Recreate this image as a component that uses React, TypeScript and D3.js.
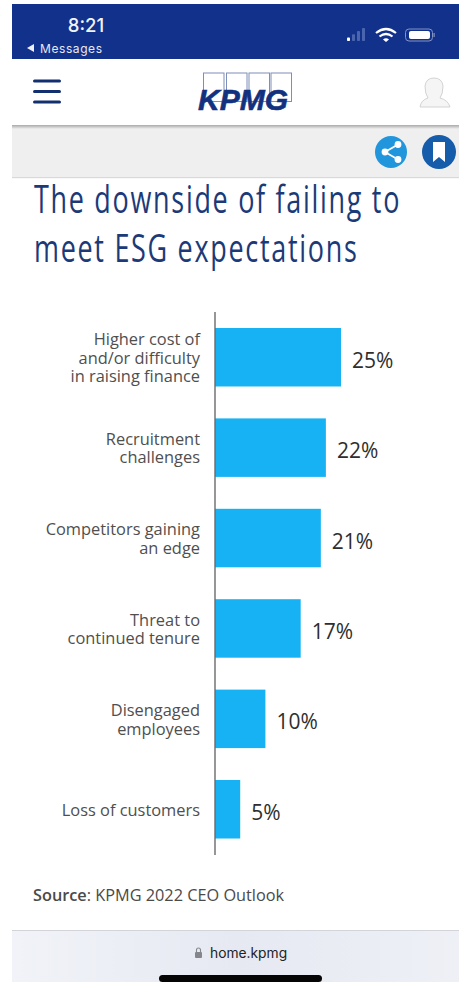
import React from "react";
import * as d3 from "d3";

const categories = ["Higher cost of|and/or difficulty|in raising finance", "Recruitment|challenges", "Competitors gaining|an edge", "Threat to|continued tenure", "Disengaged|employees", "Loss of customers"];
const shares = [25, 22, 21, 17, 10, 5];
const titleLines = ["The downside of failing to", "meet ESG expectations"];

const W = 459;
const H = 982;
const SANS = "'Open Sans', sans-serif";
const NAVY = "#12318a";

const x = d3.scaleLinear().domain([0, 25]).range([215, 341]);
const y = d3.scaleBand<string>().domain(categories).range([328, 838.5]).paddingInner(0.353).paddingOuter(0);

function StatusBar() {
  return (
    <g>
      <rect x={12} y={4} width={W - 12} height={55} fill={NAVY} />
      <text x={86} y={32} fontFamily="Inter, sans-serif" fontSize={18.5} fontWeight={500} fill="#f1f3f8" textAnchor="middle">8:21</text>
      <path d="M27 48 L34 44 L34 52 Z" fill="#eef0f6" />
      <text x={40} y={53} fontFamily="Inter, sans-serif" fontSize={12} fill="#e6e9f3" textLength={62}>Messages</text>
      {[0, 1, 2, 3].map(i => (
        <rect key={i} x={347 + i * 5} y={37.5 - i * 3.2} width={3} height={3.5 + i * 3.2} rx={0.8} fill={i === 0 ? "#fff" : "#4a64ad"} />
      ))}
      <path d="M376 33 Q386 25 396 33 M379.5 36.5 Q386 31.5 392.5 36.5" fill="none" stroke="#fff" strokeWidth={2.2} />
      <path d="M383 39.5 Q386 37 389 39.5 L386 42 Z" fill="#fff" />
      <rect x={405.5} y={29} width={27} height={12} rx={3.5} fill={NAVY} stroke="#8593c4" strokeWidth={1} />
      <rect x={409} y={31} width={21} height={8} rx={2} fill="#fff" />
      <rect x={433.5} y={33} width={1.2} height={4} fill="#8593c4" />
    </g>
  );
}

function NavBar() {
  return (
    <g>
      <rect x={12} y={59} width={W - 12} height={67} fill="#fff" />
      {[81, 91.5, 102].map(v => (
        <rect key={v} x={33} y={v - 1.5} width={28} height={3} rx={1.5} fill="#12306f" />
      ))}
      {[203.5, 226.5, 249, 271].map(v => (
        <rect key={v} x={v} y={73} width={20.5} height={28.5} fill="none" stroke="#7e8eb8" strokeWidth={1} />
      ))}
      <text x={198} y={110} fontFamily="'Liberation Sans', sans-serif" fontWeight={700} fontStyle="italic" fontSize={29} fill="#12317f" stroke="#12317f" strokeWidth={0.6} textLength={90} lengthAdjust="spacingAndGlyphs">KPMG</text>
      <path d="M420 107 Q421 100 428 98 Q425 94 425 86 Q426 78 434 78 Q442 78 443 86 Q443 94 440 98 Q448 100 450 107 Z" fill="#f5f5f5" stroke="#d3d3d3" strokeWidth={1} />
    </g>
  );
}

function ActionBar() {
  return (
    <g>
      <defs>
        <linearGradient id="navShade" x1="0" y1="0" x2="0" y2="1">
          <stop offset="0" stopColor="#a9a9a9" />
          <stop offset="1" stopColor="#efefef" />
        </linearGradient>
      </defs>
      <rect x={12} y={126} width={W - 12} height={52} fill="#efefef" />
      <rect x={12} y={125} width={W - 12} height={4} fill="url(#navShade)" />
      <rect x={12} y={177} width={W - 12} height={1.2} fill="#d9d9d9" />
      <circle cx={391} cy={152} r={16} fill="#2196dc" />
      <path d="M398 144.5 L385 152 L398 159.5" fill="none" stroke="#fff" strokeWidth={1.8} />
      <circle cx={398} cy={144.5} r={3.4} fill="#fff" />
      <circle cx={385} cy={152} r={3.4} fill="#fff" />
      <circle cx={398} cy={159.5} r={3.4} fill="#fff" />
      <circle cx={439} cy={152} r={17} fill="#155cab" />
      <path d="M433 142 H445 V162 L439 157 L433 162 Z" fill="#fff" />
    </g>
  );
}

function Footer() {
  return (
    <g>
      <text x={33} y={901} fontFamily={SANS} fontSize={16.3} fill="#4a4a4a">
        <tspan fontWeight={600}>Source</tspan>: KPMG 2022 CEO Outlook
      </text>
      <defs>
        <linearGradient id="toolbarTint" x1="0" y1="0" x2="1" y2="0">
          <stop offset="0" stopColor="#f1f3f8" />
          <stop offset="0.5" stopColor="#e6e9f2" />
          <stop offset="1" stopColor="#eef0f6" />
        </linearGradient>
      </defs>
      <rect x={12} y={930} width={W - 12} height={52} fill="url(#toolbarTint)" />
      <rect x={12} y={930} width={W - 12} height={1} fill="#d2d4da" />
      <rect x={195} y={952} width={7} height={6} rx={1} fill="#85868c" />
      <path d="M196.5 952 V950 A2 2 0 0 1 200.5 950 V952" fill="none" stroke="#85868c" strokeWidth={1.1} />
      <text x={210} y={958} fontFamily="Inter, sans-serif" fontSize={13.8} fill="#222">home.kpmg</text>
      <rect x={159} y={975} width={163} height={7} rx={3.5} fill="#050505" />
    </g>
  );
}

export default function App() {
  return (
    <svg width={W} height={H} viewBox={`0 0 ${W} ${H}`} style={{ position: "absolute", left: 0, top: 0, display: "block", background: "#fff" }}>
      <StatusBar />
      <NavBar />
      <ActionBar />

      <g fontFamily={SANS} fontSize={38} fontWeight={400} fill="#1c3a78" letterSpacing={2.4}>
        <text transform="translate(34,213) scale(0.71,1)">{titleLines[0]}</text>
        <text transform="translate(34,262) scale(0.71,1)">{titleLines[1]}</text>
      </g>

      {categories.map((c, i) => {
        const top = y(c)!;
        const mid = top + y.bandwidth() / 2;
        const lines = c.split("|");
        return (
          <g key={c}>
            <rect x={x(0)} y={top} width={x(shares[i]) - x(0)} height={y.bandwidth()} fill="#17b2f4" />
            {lines.map((l, j) => (
              <text key={l} x={200} y={mid + (j - (lines.length - 1) / 2) * 18.5 + 6.5} textAnchor="end" fontFamily={SANS} fontSize={16.4} fill="#4f4f4f">{l}</text>
            ))}
            <text x={x(shares[i]) + 11} y={mid + 10.5} fontFamily={SANS} fontSize={21} fill="#2e2e2e">{shares[i]}%</text>
          </g>
        );
      })}
      <line x1={x(0)} x2={x(0)} y1={312} y2={855} stroke="#6a6a6a" strokeWidth={1.4} />

      <Footer />
      <rect x={0} y={0} width={12} height={H} fill="#fff" />
    </svg>
  );
}
